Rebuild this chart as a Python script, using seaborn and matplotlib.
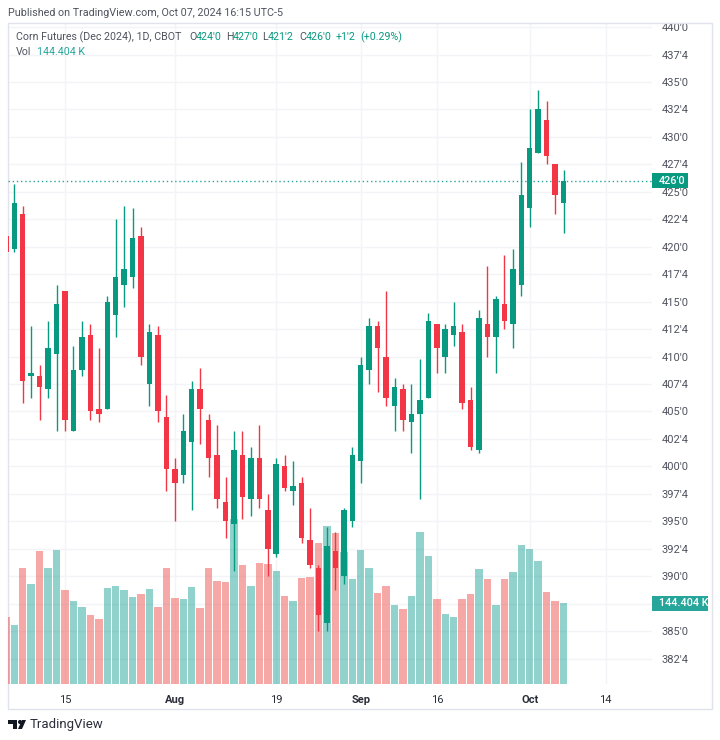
#! /usr/bin/env python

import numpy as np
import pandas as pd
import matplotlib
matplotlib.use("Agg")
import matplotlib.pyplot as plt
from matplotlib.patches import Rectangle, Polygon, Circle
import seaborn as sns

sns.set_theme(style="white")
plt.rcParams['font.family'] = ['Roboto', 'DejaVu Sans']

# daily bars, first one is cut off by the left edge of the pane
opens = [421, 419.75, 423, 408.25, 408.25, 407, 410.25, 416, 403.25, 408.75, 412, 405.25, 405.25,
         413.75, 416.5, 417.25, 421, 407.5, 412, 404.5, 399.75, 399.25, 402.25, 407, 404.25,
         401, 396.75, 394.75, 401, 397, 400.75, 396, 392, 400, 397.75, 398.5, 393.25,
         390.75, 385.75, 392.25, 390, 395, 400.5, 408.75, 412.75, 410, 405.5, 407, 404,
         404.75, 406.25, 413, 410, 412, 412.25, 406, 401.5, 413, 411.75, 414.75, 413,
         416.5, 423.5, 428.5, 431.5, 427.5, 424]
highs = [421, 425.75, 423.75, 412.75, 409.25, 413.25, 416.5, 416, 411, 413.25, 413, 410.75, 415.5,
         422.5, 423.75, 423.5, 421.75, 413, 412.75, 406.5, 400.75, 404.75, 407.75, 409, 404.75,
         403.75, 399, 403.25, 403.25, 401.75, 403.75, 397.5, 400.75, 401, 400.5, 399, 396.25,
         391, 394.5, 394, 396.25, 401.75, 410, 413.5, 413.25, 416, 408, 407.5, 407.5,
         409.75, 414, 413, 413, 415, 413, 407.25, 414.25, 418.25, 415.5, 419.25, 419.75,
         427.75, 432.5, 434.25, 433.25, 427.5, 427]
lows = [419.5, 419.5, 405.75, 406.25, 404.25, 406.25, 403.25, 403.25, 403.25, 408.25, 404.25, 404, 405.25,
        411.75, 414.5, 416.25, 409.25, 405.5, 404, 397.75, 395, 398.5, 396, 402, 399,
        396.25, 393.5, 390.5, 395.25, 395.5, 396.25, 390, 391.75, 397.75, 396.5, 393, 390.75,
        385, 385, 388.75, 389.25, 394.5, 398.5, 407.5, 406.75, 405.5, 403.25, 403.25, 401.25,
        397, 406.25, 408.5, 408.5, 411, 405.25, 401.5, 401.25, 410, 408.5, 412.5, 410.75,
        415.5, 421.75, 428.5, 427.5, 423, 421.25]
closes = [419.5, 424, 407.75, 408.5, 407.25, 410.75, 414.75, 404.25, 408.75, 411.75, 405, 404.75, 415,
          417.25, 418, 420.75, 410, 412.25, 405, 399.75, 398.5, 403.25, 407, 405.25, 400.75,
          397, 395, 401.5, 397.25, 400.75, 397, 392.5, 400.25, 398, 398.25, 393.5, 391,
          386.5, 392.75, 390.75, 396, 401, 409.25, 412.75, 410.75, 406.25, 407.25, 404.25, 404.75,
          406, 413.25, 410.75, 412.5, 412.75, 405.75, 401.75, 413.5, 411.75, 415.25, 413.25, 418,
          424.75, 429, 432.5, 428.25, 424.75, 426]
# volume in thousands
volumes = [119, 105, 207, 178, 237, 207, 239, 168, 148, 137, 123, 116, 171,
           175, 168, 155, 160, 169, 137, 207, 153, 152, 173, 136, 207,
           184, 182, 294, 212, 175, 216, 214, 201, 157, 148, 189, 191,
           251, 282, 269, 235, 187, 239, 207, 162, 175, 141, 134, 157,
           271, 228, 152, 125, 119, 152, 160, 205, 187, 141, 187, 200,
           248, 241, 219, 164, 148, 144.404]

price_ticks = [382.5, 385, 387.5, 390, 392.5, 395, 397.5, 400, 402.5, 405, 407.5, 410, 412.5,
               415, 417.5, 420, 422.5, 425, 427.5, 430, 432.5, 435, 437.5, 440]
# 387'4 sits behind the volume tag
price_labels = ["382'4", "385'0", "", "390'0", "392'4", "395'0", "397'4", "400'0", "402'4",
                "405'0", "407'4", "410'0", "412'4", "415'0", "417'4", "420'0", "422'4", "425'0",
                "427'4", "430'0", "432'4", "435'0", "437'4", "440'0"]
date_ticks = [6, 19, 31, 41, 50, 61, 70]
date_labels = ["15", "Aug", "19", "Sep", "16", "Oct", "14"]
month_labels = ("Aug", "Sep", "Oct")

UP = "#089981"
DOWN = "#F23645"
VOL_UP = "#26A69A"
VOL_DOWN = "#EF5350"
GRID = "#F3F4F8"
TEXT = "#50535E"

W, H = 720, 740


def px(x, y):
    return x / W, 1 - y / H


x = np.arange(-1, len(opens) - 1)
opens, highs, lows, closes = map(np.array, (opens, highs, lows, closes))
df = pd.DataFrame({"x": x, "vol": volumes, "up": closes >= opens})

fig = plt.figure(figsize=(W / 100, H / 100), dpi=100, facecolor="white")
left, bottom = px(8, 684)
ax = fig.add_axes([left, bottom, (652 - 8) / W, (684 - 23) / H])
ax_vol = ax.twinx()
ax_price = ax.twinx()
ax.set_zorder(0)
ax_vol.set_zorder(1)
ax_price.set_zorder(2)
ax_vol.patch.set_visible(False)
ax_price.patch.set_visible(False)

xlim = (-0.746, 75.47)
ylim = (380.18, 440.37)

# volume goes under the candles
sns.barplot(data=df, x="x", y="vol", hue="up", palette={True: VOL_UP, False: VOL_DOWN},
            native_scale=True, dodge=False, width=0.88, errorbar=None, legend=False,
            saturation=1, alpha=0.5, linewidth=0, ax=ax_vol)
ax_vol.set_ylim(0, 1178)
ax_vol.set_xlim(*xlim)
ax_vol.set_xlabel("")
ax_vol.set_ylabel("")
ax_vol.yaxis.set_visible(False)
ax_vol.xaxis.set_visible(False)

colors = np.where(closes >= opens, UP, DOWN)
ax_price.vlines(x, lows, highs, colors=colors, lw=1)
body_low = np.minimum(opens, closes)
body_h = np.abs(closes - opens)
ax_price.bar(x, body_h, bottom=body_low, width=0.65, color=colors, linewidth=0, zorder=3)
ax_price.axhline(426, color=VOL_UP, lw=1, ls=(0, (1, 2)), zorder=1)
ax_price.set_xlim(*xlim)
ax_price.set_ylim(*ylim)
ax_price.yaxis.set_visible(False)
ax_price.xaxis.set_visible(False)

ax.set_xlim(*xlim)
ax.set_ylim(*ylim)
ax.yaxis.tick_right()
ax.set_yticks(price_ticks, price_labels)
ax.set_xticks(date_ticks, date_labels)
ax.tick_params(axis="y", length=0, pad=7, labelsize=8, labelcolor=TEXT)
ax.tick_params(axis="x", length=0, pad=8, labelsize=8, labelcolor="#2A2E39")
for t in ax.get_xticklabels():
    if t.get_text() in month_labels:
        t.set_fontweight("bold")
ax.grid(True, color=GRID, lw=1)
for ax_i in (ax, ax_vol, ax_price):
    sns.despine(ax=ax_i, left=True, right=True, top=True, bottom=True)

# outer frame
fig.add_artist(Rectangle(px(8, 709), 704 / W, 686 / H, transform=fig.transFigure,
                         fill=False, ec="#E0E3EB", lw=1))

# last value tags on the scale
for y0, y1, x1, col, label in [(173, 188, 688, UP, "426'0"), (596, 611, 708, VOL_UP, "144.404 K")]:
    fig.add_artist(Rectangle(px(652, y1), (x1 - 652) / W, (y1 - y0) / H, transform=fig.transFigure,
                             fc=col, ec="none", zorder=10))
    tx, ty = px(659, (y0 + y1) / 2)
    fig.text(tx, ty, label, color="white", fontsize=7.8, weight="medium",
             va="center", zorder=11)

tx, ty = px(8, 13)
fig.text(tx, ty, "Published on TradingView.com, Oct 07, 2024 16:15 UTC-5", fontsize=7.75, color=TEXT, va="center")

# header, label and value pieces
header = [(16, "Corn Futures (Dec 2024), 1D, CBOT", TEXT), (189, "O", TEXT), (196, "424'0", UP),
          (226, "H", TEXT), (233, "427'0", UP), (262, "L", TEXT), (268, "421'2", UP),
          (299, "C", TEXT), (306, "426'0", UP), (336, "+1'2", UP), (360, "(+0.29%)", UP)]
for hx, s, col in header:
    tx, ty = px(hx, 37)
    fig.text(tx, ty, s, fontsize=7.65, color=col, va="center")
tx, ty = px(16, 52)
fig.text(tx, ty, "Vol", fontsize=7.65, color=TEXT, va="center")
tx, ty = px(37, 52)
fig.text(tx, ty, "144.404 K", fontsize=7.65, color=VOL_UP, va="center")

# TradingView logo
logo = "#131722"
fig.add_artist(Polygon([px(8, 720), px(17, 720), px(17, 729), px(13, 729), px(13, 724), px(8, 724)],
                       transform=fig.transFigure, fc=logo, ec="none"))
fig.add_artist(Polygon([px(22, 720), px(26, 720), px(22, 729), px(18, 729)],
                       transform=fig.transFigure, fc=logo, ec="none"))
fig.add_artist(Circle(px(20, 722), 2 / W, transform=fig.transFigure, fc=logo, ec="none"))
tx, ty = px(30, 724.5)
fig.text(tx, ty, "TradingView", fontsize=9.5, color="#2A2E39", va="center")

fig.savefig("out.png", dpi=100)
